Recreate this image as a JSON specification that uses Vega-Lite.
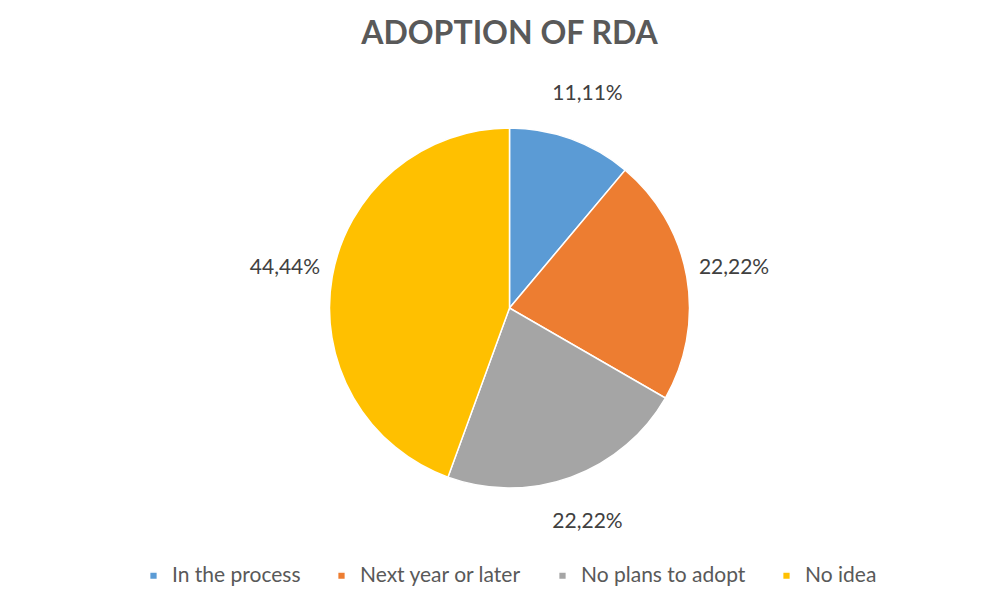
{
  "$schema": "https://vega.github.io/schema/vega-lite/v6.json",
  "width": 999,
  "height": 602,
  "autosize": {"type": "fit", "contains": "padding"},
  "padding": {"top": 18, "bottom": 16, "left": 20, "right": 0},
  "background": "white",
  "title": {
    "text": "ADOPTION OF RDA",
    "font": "Lato",
    "fontSize": 32,
    "fontWeight": "bold",
    "color": "#595959",
    "anchor": "middle",
    "offset": 18
  },
  "data": {
    "values": [
      {"category": "In the process", "order": 1, "value": 11.11, "label": "11,11%"},
      {"category": "Next year or later", "order": 2, "value": 22.22, "label": "22,22%"},
      {"category": "No plans to adopt", "order": 3, "value": 22.22, "label": "22,22%"},
      {"category": "No idea", "order": 4, "value": 44.44, "label": "44,44%"}
    ]
  },
  "encoding": {
    "theta": {"field": "value", "type": "quantitative", "stack": true},
    "order": {"field": "order", "type": "quantitative"},
    "color": {
      "field": "category",
      "type": "nominal",
      "sort": ["In the process", "Next year or later", "No plans to adopt", "No idea"],
      "scale": {
        "domain": ["In the process", "Next year or later", "No plans to adopt", "No idea"],
        "range": ["#5B9BD5", "#ED7D31", "#A5A5A5", "#FFC000"]
      },
      "legend": {
        "title": null,
        "orient": "bottom",
        "direction": "horizontal",
        "symbolType": "square",
        "symbolSize": 60,
        "labelFont": "Lato",
        "labelFontSize": 21,
        "labelColor": "#595959",
        "labelLimit": 400,
        "columnPadding": 30,
        "labelOffset": 8,
        "offset": 18
      }
    }
  },
  "layer": [
    {
      "mark": {"type": "arc", "outerRadius": 180, "stroke": "white", "strokeWidth": 1.5}
    },
    {
      "mark": {"type": "text", "radius": 228, "font": "Lato", "fontSize": 21, "fill": "#404040"},
      "encoding": {
        "text": {"field": "label", "type": "nominal"},
        "color": {"value": "#404040"}
      }
    }
  ],
  "config": {
    "view": {"stroke": null},
    "legend": {"layout": {"bottom": {"anchor": "middle"}}}
  }
}
